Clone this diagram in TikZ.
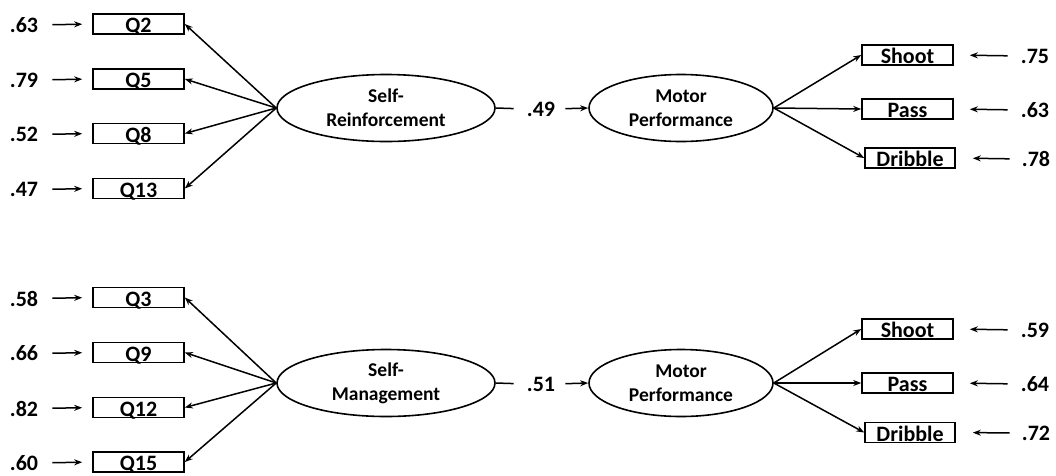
\documentclass[tikz,border=0pt]{standalone}
\usepackage{fontspec}
\setmainfont{Carlito}
\usetikzlibrary{arrows.meta,shapes.geometric}
\begin{document}
\begin{tikzpicture}[x=1pt,y=-1pt,
  obs/.style={draw, line width=1.6pt, minimum width=91pt, minimum height=20pt, inner sep=0pt,
    text height=18.5pt, text depth=1.5pt, font=\fontsize{22}{24}\selectfont\bfseries},
  lat/.style={draw, ellipse, line width=1.6pt, minimum width=218pt, minimum height=67pt, inner sep=0pt,
    align=center, font=\fontsize{19.5}{24}\selectfont\bfseries},
  lab/.style={inner sep=0pt, font=\fontsize{22}{24}\selectfont\bfseries},
  arr/.style={-{Stealth[length=8pt,width=6pt]}, line width=1.5pt},
  ln/.style={line width=1.5pt}]
\useasboundingbox (0,0) rectangle (1056,475);

% ---------- top model ----------
\node[obs] (Q2)  at (138.5,24)  {Q2};
\node[obs] (Q5)  at (138.5,79)  {Q5};
\node[obs] (Q8)  at (138.5,133.5) {Q8};
\node[obs] (Q13) at (138.5,188.5) {Q13};
\node[lab] (e2)  at (24,25)  {.63};
\node[lab] (e5)  at (24,80)  {.79};
\node[lab] (e8)  at (24,134.5) {.52};
\node[lab] (e13) at (24,189.5) {.47};
\foreach \e/\q in {e2/Q2,e5/Q5,e8/Q8,e13/Q13}
  \draw[arr, shorten <=14pt, shorten >=10pt] (\e.east) -- (\q.west);

\node[lat] (SR) at (386,108) {Self-\\Reinforcement};
\node[lat, minimum width=184pt] (MP1) at (681,108) {Motor\\Performance};
\foreach \q in {Q2,Q5,Q8,Q13}
  \draw[arr] (SR.west) -- (\q.east);
\node[lab] (b1) at (541,109) {.49};
\draw[ln, shorten >=13pt] (SR.east) -- (b1.west);
\draw[arr, shorten <=10pt] (b1.east) -- (MP1.west);

\node[obs] (S1) at (907.5,55)  {Shoot};
\node[obs] (P1) at (907.5,109) {Pass};
\node[obs, minimum width=90pt] (D1) at (910,158) {Dribble};
\foreach \b in {S1,P1,D1}
  \draw[arr] (MP1.east) -- (\b.west);
\node[lab] (r1) at (1035,56)  {.75};
\node[lab] (r2) at (1035,110) {.63};
\node[lab] (r3) at (1036,159) {.78};
\draw[arr, shorten <=13pt, shorten >=16pt] (r1.west) -- (S1.east);
\draw[arr, shorten <=13pt, shorten >=16pt] (r2.west) -- (P1.east);
\draw[arr, shorten <=12pt, shorten >=17pt] (r3.west) -- (D1.east);

% ---------- bottom model ----------
\node[obs] (Q3)  at (138.5,297.5) {Q3};
\node[obs] (Q9)  at (138.5,352.5) {Q9};
\node[obs] (Q12) at (138.5,407.5) {Q12};
\node[obs] (Q15) at (138.5,462) {Q15};
\node[lab] (e3)  at (24,298.5) {.58};
\node[lab] (e9)  at (24,353.5) {.66};
\node[lab] (e12) at (24,408.5) {.82};
\node[lab] (e15) at (24,463) {.60};
\foreach \e/\q in {e3/Q3,e9/Q9,e12/Q12,e15/Q15}
  \draw[arr, shorten <=14pt, shorten >=10pt] (\e.east) -- (\q.west);

\node[lat] (SM) at (386,383) {Self-\\Management};
\node[lat, minimum width=184pt] (MP2) at (681,383) {Motor\\Performance};
\foreach \q in {Q3,Q9,Q12,Q15}
  \draw[arr] (SM.west) -- (\q.east);
\node[lab] (b2) at (541,384) {.51};
\draw[ln, shorten >=13pt] (SM.east) -- (b2.west);
\draw[arr, shorten <=10pt] (b2.east) -- (MP2.west);

\node[obs] (S2) at (907.5,329) {Shoot};
\node[obs] (P2) at (907.5,383) {Pass};
\node[obs, minimum width=90pt] (D2) at (910,432.5) {Dribble};
\foreach \b in {S2,P2,D2}
  \draw[arr] (MP2.east) -- (\b.west);
\node[lab] (r4) at (1035,330) {.59};
\node[lab] (r5) at (1035,384) {.64};
\node[lab] (r6) at (1036,433) {.72};
\draw[arr, shorten <=13pt, shorten >=16pt] (r4.west) -- (S2.east);
\draw[arr, shorten <=13pt, shorten >=16pt] (r5.west) -- (P2.east);
\draw[arr, shorten <=12pt, shorten >=17pt] (r6.west) -- (D2.east);
\end{tikzpicture}
\end{document}
